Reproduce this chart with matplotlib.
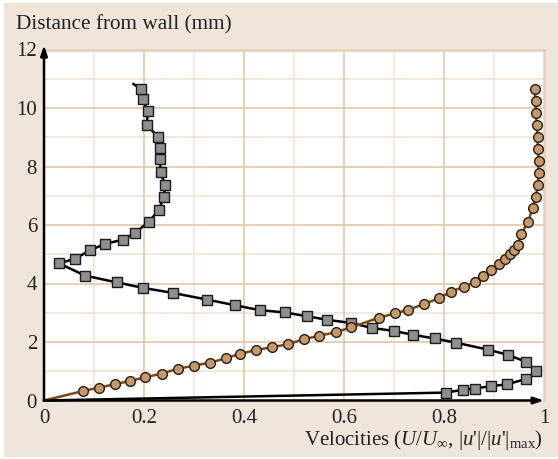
import matplotlib
matplotlib.use("Agg")
import matplotlib.pyplot as plt
from matplotlib.patches import Rectangle

# ---- data ----
u_mean_x = [0.0, 0.077, 0.109, 0.141, 0.172, 0.202, 0.235, 0.267, 0.299, 0.331, 0.363,
            0.391, 0.423, 0.455, 0.487, 0.519, 0.549, 0.583, 0.614, 0.670, 0.702,
            0.727, 0.760, 0.789, 0.814, 0.839, 0.861, 0.877, 0.893, 0.910, 0.921,
            0.932, 0.939, 0.947, 0.954, 0.968, 0.977, 0.983, 0.988, 0.989, 0.989,
            0.988, 0.987, 0.985, 0.984, 0.983, 0.981]
u_mean_y = [0.0, 0.32, 0.44, 0.55, 0.67, 0.79, 0.92, 1.08, 1.19, 1.29, 1.44,
            1.59, 1.72, 1.82, 1.92, 2.09, 2.21, 2.33, 2.50, 2.83, 2.98,
            3.09, 3.30, 3.49, 3.72, 3.89, 4.04, 4.25, 4.45, 4.67, 4.84,
            5.00, 5.15, 5.32, 5.68, 6.10, 6.57, 6.95, 7.37, 7.79, 8.20,
            8.60, 9.02, 9.42, 9.82, 10.23, 10.64]

u_rms_x = [0.0, 0.803, 0.837, 0.862, 0.893, 0.925, 0.963, 0.984, 0.963, 0.928, 0.888,
           0.823, 0.781, 0.737, 0.699, 0.656, 0.614, 0.566, 0.526, 0.482, 0.431,
           0.381, 0.326, 0.257, 0.198, 0.145, 0.082, 0.030, 0.061, 0.092, 0.121,
           0.158, 0.181, 0.210, 0.229, 0.240, 0.242, 0.233, 0.232, 0.232, 0.228,
           0.206, 0.207, 0.197, 0.193, 0.179]
u_rms_y = [0.0, 0.27, 0.36, 0.41, 0.49, 0.55, 0.73, 1.00, 1.33, 1.56, 1.74,
           1.98, 2.12, 2.25, 2.38, 2.48, 2.65, 2.76, 2.88, 3.01, 3.09,
           3.26, 3.45, 3.68, 3.85, 4.04, 4.27, 4.69, 4.84, 5.13, 5.35,
           5.50, 5.72, 6.11, 6.51, 6.96, 7.36, 7.82, 8.24, 8.64, 9.02,
           9.41, 9.91, 10.30, 10.65, 10.82]

x_ticks = [0, 0.2, 0.4, 0.6, 0.8, 1]
x_tick_labels = ["0", "0.2", "0.4", "0.6", "0.8", "1"]
y_ticks = [0, 2, 4, 6, 8, 10, 12]
y_tick_labels = ["0", "2", "4", "6", "8", "10", "12"]

plt.rcParams["font.family"] = ["Liberation Serif", "DejaVu Serif"]
plt.rcParams["mathtext.fontset"] = "custom"
plt.rcParams["mathtext.rm"] = "Liberation Serif"
plt.rcParams["mathtext.it"] = "Liberation Serif:italic"

W, H = 558, 459
fig = plt.figure(figsize=(W / 100, H / 100), dpi=100)
fig.patch.set_facecolor("white")
bg = Rectangle((4 / W, 2 / H), 1 - 4 / W, 1 - 5 / H,
               transform=fig.transFigure, facecolor="#EFE5DA",
               edgecolor="none", zorder=-10)
fig.patches.append(bg)

ax = fig.add_axes([44 / W, (H - 400.5) / H, 500 / W, 351 / H])
ax.set_zorder(1)
ax.set_facecolor("white")
ax.set_xlim(0, 1)
ax.set_ylim(0, 12)

# grid
for v in [0.1, 0.3, 0.5, 0.7, 0.9]:
    ax.axvline(v, color="#F3E6D8", lw=1.3, zorder=1)
for v in [1, 3, 5, 7, 9, 11]:
    ax.axhline(v, color="#F3E6D8", lw=1.3, zorder=1)
for v in [0.2, 0.4, 0.6, 0.8]:
    ax.axvline(v, color="#E4CCB0", lw=1.3, zorder=1)
for v in [2, 4, 6, 8, 10]:
    ax.axhline(v, color="#E4CCB0", lw=1.3, zorder=1)

for s in ["top", "right"]:
    ax.spines[s].set_color("#E3D0B8")
    ax.spines[s].set_linewidth(1.8)
for s in ["left", "bottom"]:
    ax.spines[s].set_visible(False)

# axes arrows
ax.annotate("", xy=(0, 12.15), xytext=(0, 0), xycoords="data",
            arrowprops=dict(arrowstyle="-|>,head_length=0.6,head_width=0.2",
                            color="black", lw=1.8, shrinkA=0, shrinkB=0),
            annotation_clip=False, zorder=6)
ax.annotate("", xy=(1.0, 0), xytext=(0, 0), xycoords="data",
            arrowprops=dict(arrowstyle="-|>,head_length=0.6,head_width=0.2",
                            color="black", lw=1.8, shrinkA=0, shrinkB=0),
            annotation_clip=False, zorder=6)

# series
ax.plot(u_rms_x, u_rms_y, color="black", lw=1.8, zorder=3,
        marker="s", markersize=7, markerfacecolor="#8E8E8E",
        markeredgecolor="#1a1a1a", markeredgewidth=1.0,
        markevery=list(range(1, len(u_rms_x) - 1)), clip_on=False)
ax.plot(u_mean_x, u_mean_y, color="#7A4A10", lw=1.8, zorder=4,
        marker="o", markersize=7, markerfacecolor="#C49A6C",
        markeredgecolor="#2a1c10", markeredgewidth=1.0,
        markevery=list(range(1, len(u_mean_x))), clip_on=False)

ax.set_xticks(x_ticks)
ax.set_xticklabels(x_tick_labels)
ax.set_yticks(y_ticks)
ax.set_yticklabels(y_tick_labels)
ax.tick_params(length=0, labelsize=15, colors="#222222", pad=6)
ax.tick_params(axis="y", pad=5)

fig.text(16 / W, 1 - 25 / H, "Distance from wall (mm)", fontsize=15.3,
         color="#222222", va="center", ha="left")
fig.text(543 / W, 1 - 440 / H,
         r"Velocities ($U/U_\infty$, |$u$'|/|$u$'|$_{\mathrm{max}}$)",
         fontsize=15, color="#222222", va="center", ha="right")

fig.savefig("out.png", dpi=100, facecolor=fig.get_facecolor())
